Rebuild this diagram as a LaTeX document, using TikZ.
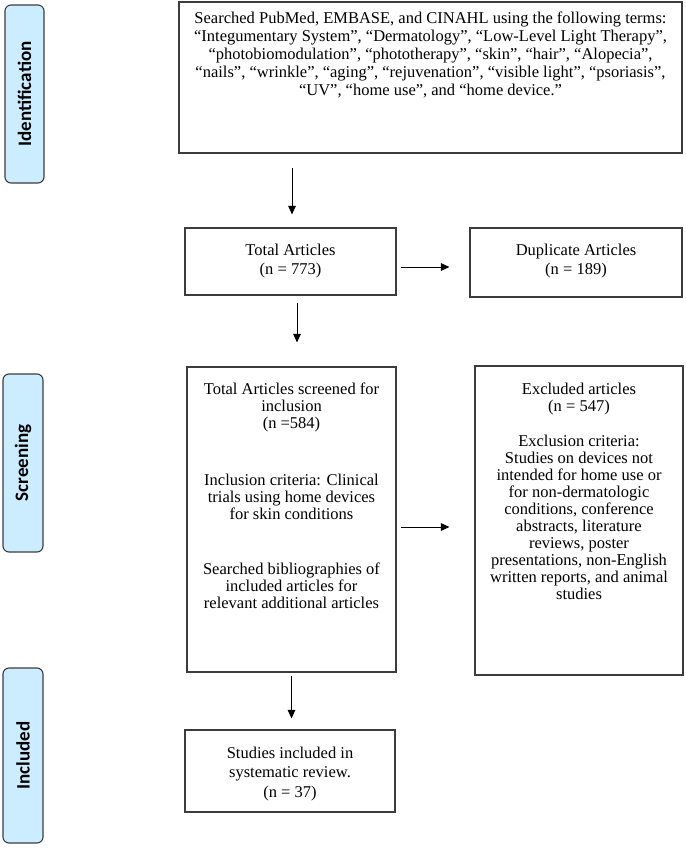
\documentclass[tikz,border=0pt]{standalone}
\usepackage{fontspec}
\setmainfont{Liberation Serif}
\newfontfamily\tabfont{Carlito}
\usetikzlibrary{arrows.meta}
\definecolor{tabblue}{RGB}{204,236,255}
\definecolor{edge}{RGB}{60,60,60}
\begin{document}
\begin{tikzpicture}[x=1pt,y=-1pt,
  box/.style={draw=edge, line width=1.1pt, inner sep=0pt},
  txt/.style={font=\fontsize{16.5}{19.5}\selectfont, align=center, inner sep=0pt, anchor=north},
  tighttxt/.style={txt, font=\fontsize{16.5}{17}\selectfont},
  toptxt/.style={txt, font=\fontsize{16.5}{18}\selectfont},
  tab/.style={draw=edge, fill=tabblue, line width=1.1pt, rounded corners=6pt, rotate=90,
    font=\tabfont\bfseries\fontsize{19}{21}\selectfont, inner sep=0pt},
  arr/.style={-{Triangle[length=8.5pt,width=7.5pt]}, line width=1pt, black}]
\useasboundingbox (0,0) rectangle (685,853);

% phase tabs
\node[tab, minimum width=178pt, minimum height=39pt] (tabid) at (24.5,94) {Identification};
\node[tab, minimum width=178pt, minimum height=40pt] (tabsc) at (23,463) {Screening};
\node[tab, minimum width=175pt, minimum height=40pt] (tabin) at (23,755.5) {Included};

% boxes
\node[box, minimum width=503pt, minimum height=151pt] (search) at (430.5,77.5) {};
\node[box, minimum width=211pt, minimum height=67pt] (total) at (290.5,261.5) {};
\node[box, minimum width=212pt, minimum height=69pt] (dup) at (576,262.5) {};
\node[box, minimum width=209pt, minimum height=305pt] (screen) at (291.5,519.5) {};
\node[box, minimum width=208pt, minimum height=309pt] (excl) at (579,520.5) {};
\node[box, minimum width=210pt, minimum height=82pt] (incl) at (290,771) {};

% texts
\node[toptxt] (searchtxt) at ([yshift=-10.5pt]search.north) {Searched PubMed, EMBASE, and CINAHL using the following terms:\\
“Integumentary System”, “Dermatology”, “Low-Level Light Therapy”,\\
“photobiomodulation”, “phototherapy”, “skin”, “hair”, “Alopecia”,\\
“nails”, “wrinkle”, “aging”, “rejuvenation”, “visible light”, “psoriasis”,\\
“UV”, “home use”, and “home device.”};
\node[txt] (totaltxt) at ([yshift=-16pt]total.north) {Total Articles\\(n = 773)};
\node[txt] (duptxt) at ([yshift=-16pt]dup.north) {Duplicate Articles\\(n = 189)};
\node[tighttxt] (screentxt) at ([yshift=-16pt]screen.north) {Total Articles screened for\\inclusion\\(n =584)\\[40pt]Inclusion criteria: Clinical\\trials using home devices\\for skin conditions\\[38pt]Searched bibliographies of\\included articles for\\relevant additional articles};
\node[tighttxt] (excltxt) at ([yshift=-17pt]excl.north) {Excluded articles\\(n = 547)\\[18pt]Exclusion criteria:\\Studies on devices not\\intended for home use or\\for non-dermatologic\\conditions, conference\\abstracts, literature\\reviews, poster\\presentations, non-English\\written reports, and animal\\studies};
\node[txt] (incltxt) at ([yshift=-17pt]incl.north) {Studies included in\\systematic review.\\(n = 37)};

% connectors
\draw[arr, shorten <=14pt, shorten >=13pt] ([xshift=1.5pt]total.north |- search.south) -- ([xshift=1.5pt]total.north);
\draw[arr, shorten <=4pt, shorten >=20pt] ([yshift=-5.5pt]total.east) -- ([yshift=-5.5pt]total.east -| dup.west);
\draw[arr, shorten <=7pt, shorten >=24pt] ([xshift=6.5pt]total.south) -- ([xshift=6.5pt]total.south |- screen.north);
\draw[arr, shorten <=4pt, shorten >=25pt] ([yshift=-7.5pt]screen.east) -- ([yshift=-7.5pt]screen.east -| excl.west);
\draw[arr, shorten <=3pt, shorten >=11pt] (screen.south) -- (screen.south |- incl.north);
\end{tikzpicture}
\end{document}
